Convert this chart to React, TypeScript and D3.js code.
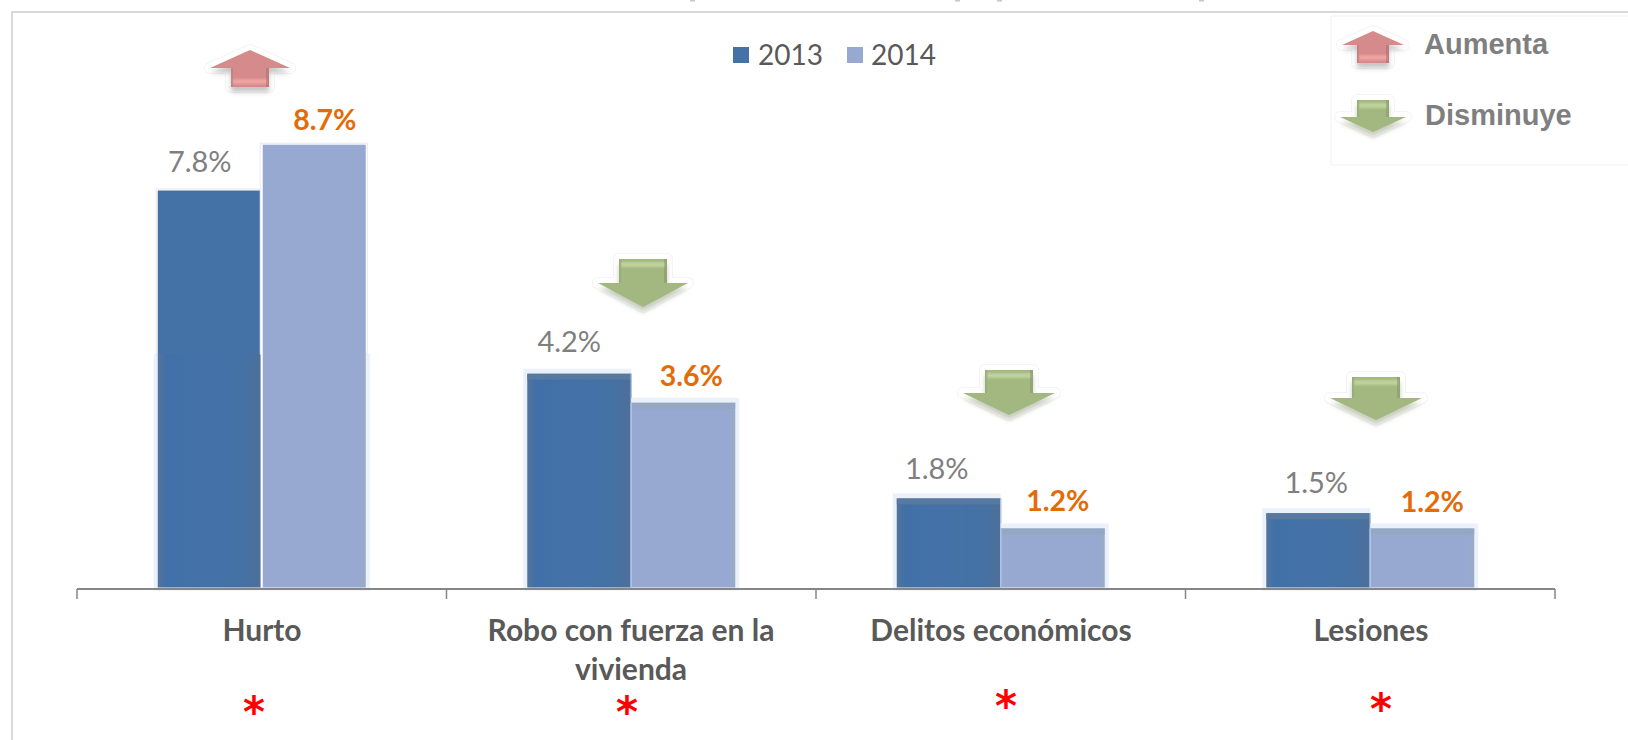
import React from "react";
import * as d3 from "d3";

// ---------- data ----------
const categories = ["Hurto", "Robo con fuerza en la|vivienda", "Delitos económicos", "Lesiones"];
const series = ["2013", "2014"];
const values2013 = [7.8, 4.2, 1.75, 1.46];
const values2014 = [8.7, 3.63, 1.16, 1.16];
const trend = ["up", "down", "down", "down"];
const legendItems = ["Aumenta", "Disminuye"];

// ---------- layout ----------
const W = 1628, H = 740;
const baseY = 587.5;
const axisLeft = 77, axisRight = 1555;
const x0 = d3.scaleBand<string>().domain(categories).range([axisLeft, axisRight]).paddingInner(0).paddingOuter(0);
const BAR = 104;
const x1 = d3.scaleBand<string>().domain(series).range([-BAR, BAR]);
const y = d3.scaleLinear().domain([0, 8.7]).range([baseY, 144.7]);
const fmt = d3.format(".1f");

const label13 = [{ dx: -10, by: 172 }, { dx: -10, by: 352 }, { dx: -12, by: 479 }, { dx: -2, by: 493 }];
const label14 = [{ dx: 11, by: 130 }, { dx: 8, by: 386 }, { dx: 5, by: 511 }, { dx: 10, by: 512 }];
const catCx = [262, 631, 1001, 1371];
const starPos = [{ x: 254, y: 727 }, { x: 627, y: 727 }, { x: 1006, y: 721 }, { x: 1381, y: 724 }];
const arrowPos = [
  { cx: 250, top: 50, hw: 40, headY: 68, end: 87, shaftHw: 19 },
  { cx: 643, top: 259, hw: 45, headY: 283, end: 307, shaftHw: 24 },
  { cx: 1009, top: 370, hw: 46, headY: 393, end: 415, shaftHw: 24 },
  { cx: 1376, top: 377, hw: 46, headY: 398, end: 420, shaftHw: 24 },
];
const legendArrows = [
  { cx: 1373, top: 31, hw: 31, headY: 45, end: 63, shaftHw: 16, dir: "up" },
  { cx: 1373, top: 100, hw: 33, headY: 117, end: 132, shaftHw: 16, dir: "down" },
];
const specks = [690, 955, 997, 1199];

const sans = "Lato, 'Noto Sans', sans-serif";
const arial = "'Liberation Sans', Arial, sans-serif";

type A = { cx: number; top: number; hw: number; headY: number; end: number; shaftHw: number };

function Arrow({ a, dir }: { a: A; dir: string }) {
  const { cx, top, hw, headY, end, shaftHw } = a;
  const d =
    dir === "up"
      ? `M${cx},${top} L${cx + hw},${headY} L${cx + shaftHw},${headY} L${cx + shaftHw},${end} L${cx - shaftHw},${end} L${cx - shaftHw},${headY} L${cx - hw},${headY} Z`
      : `M${cx},${end} L${cx + hw},${headY} L${cx + shaftHw},${headY} L${cx + shaftHw},${top} L${cx - shaftHw},${top} L${cx - shaftHw},${headY} L${cx - hw},${headY} Z`;
  const col = dir === "up" ? "#d58a8b" : "#a3b880";
  const strip = dir === "up" ? "#f0a3a3" : "#bfd29c";
  const stripY = dir === "up" ? end - 8 : top + 3;
  const sh = dir === "up" ? "#8a8a8a" : "#8f9a80";
  return (
    <g>
      <path d={d} fill="#fff" stroke="#f4f4f4" strokeWidth={12} strokeLinejoin="round" />
      <path d={d} fill="#fff" stroke="#fff" strokeWidth={10} strokeLinejoin="round" />
      <path d={d} fill={sh} opacity={0.5} transform="translate(0,5)" filter="url(#blur3)" />
      <path d={d} fill={col} />
      <rect x={cx - shaftHw + 2} y={stripY} width={shaftHw * 2 - 4} height={5} fill={strip} filter="url(#blur1)" />
      <rect x={cx + shaftHw - 3} y={dir === "up" ? headY : top} width={3} height={dir === "up" ? end - headY : headY - top} fill="#000" opacity={0.1} />
      <rect x={cx - shaftHw} y={dir === "up" ? headY : top} width={2} height={dir === "up" ? end - headY : headY - top} fill="#000" opacity={0.06} />
    </g>
  );
}

function Bar({ cat, s, v, i }: { cat: string; s: string; v: number; i: number }) {
  const xb = x0(cat)! + x0.bandwidth() / 2 + x1(s)!;
  const w = x1.bandwidth();
  const top = y(v);
  const dark = s === "2013";
  const fill = dark ? "url(#g13)" : "url(#g14)";
  const flat = dark ? "#4472a6" : "#97a9d0";
  const glowTop = i === 0 ? 354 : top - 5;
  const outer = dark ? xb - 4 : xb;
  const outerW = w + 4;
  return (
    <g>
      <rect x={outer} y={glowTop} width={outerW} height={baseY - glowTop + 3} fill="#eaf1fb" />
      {i === 0 && (
        <rect x={xb - 1.5} y={top - 1.5} width={w + 3} height={354 - top + 1.5} fill="#fff" stroke="#e9e6e6" strokeWidth={1} />
      )}
      {i === 0 && <rect x={xb} y={top} width={w} height={354 - top} fill={flat} />}
      <rect x={xb} y={i === 0 ? 354 : top} width={w} height={baseY - (i === 0 ? 354 : top)} fill={fill} />
      {i > 0 && <rect x={xb} y={top} width={w} height={6} fill={dark ? "#5b7a9f" : "#93a8c2"} opacity={0.85} />}
      <line x1={dark ? xb + w : xb} x2={dark ? xb + w : xb} y1={top} y2={baseY} stroke={i === 0 ? "#fff" : "#a9c6ea"} strokeWidth={i === 0 ? 2 : 1.5} />
    </g>
  );
}

export default function App() {
  const tickXs = [...categories.map((c) => x0(c)!), axisRight];
  return (
    <svg width={W} height={H} viewBox={`0 0 ${W} ${H}`} style={{ position: "absolute", left: 0, top: 0, display: "block", background: "#fff" }}>
      <defs>
        <filter id="blur3" x="-30%" y="-30%" width="160%" height="160%">
          <feGaussianBlur stdDeviation="2.5" />
        </filter>
        <filter id="blur1" x="-10%" y="-50%" width="120%" height="200%">
          <feGaussianBlur stdDeviation="0.8" />
        </filter>
        <linearGradient id="g13" x1="0" x2="1" y1="0" y2="0">
          <stop offset="0" stopColor="#55749b" />
          <stop offset="0.08" stopColor="#4170a8" />
          <stop offset="0.5" stopColor="#4472a8" />
          <stop offset="0.85" stopColor="#4571a3" />
          <stop offset="1" stopColor="#4f6f98" />
        </linearGradient>
        <linearGradient id="g14" x1="0" x2="1" y1="0" y2="0">
          <stop offset="0" stopColor="#97a9d0" />
          <stop offset="0.94" stopColor="#97a9d0" />
          <stop offset="1" stopColor="#9aabc6" />
        </linearGradient>
      </defs>

      {/* frame */}
      <path d={`M12,${H} V12 H${W}`} fill="none" stroke="#d9d9d9" strokeWidth={2} />
      {specks.map((sx) => (
        <rect key={sx} x={sx} y={0} width={5} height={1.5} fill="#c8c8c8" />
      ))}

      {/* legend (series) */}
      {series.map((s, i) => {
        const sx = [733, 847][i];
        return (
          <g key={s}>
            <rect x={sx} y={47} width={16} height={16} fill={i === 0 ? "#4472a6" : "#97a9d0"} />
            <text x={[758, 871][i]} y={65} fontFamily={sans} fontSize={28} fill="#595959">{s}</text>
          </g>
        );
      })}

      {/* legend (trend) */}
      <rect x={1331} y={16} width={310} height={149} fill="#fff" stroke="#f2f2f2" />
      {legendItems.map((t, i) => (
        <g key={t}>
          <Arrow a={legendArrows[i]} dir={legendArrows[i].dir} />
          <text x={[1424, 1425][i]} y={[54, 125][i]} fontFamily={arial} fontWeight={700} fontSize={29} fill="#7f7f7f">{t}</text>
        </g>
      ))}

      {/* bars */}
      {categories.map((c, i) => (
        <g key={c}>
          <Bar cat={c} s="2013" v={values2013[i]} i={i} />
          <Bar cat={c} s="2014" v={values2014[i]} i={i} />
        </g>
      ))}

      {/* axis */}
      <line x1={axisLeft} x2={axisRight} y1={589} y2={589} stroke="#868686" strokeWidth={2} />
      {tickXs.map((t) => (
        <line key={t} x1={t} x2={t} y1={589} y2={599} stroke="#868686" strokeWidth={1.5} />
      ))}

      {/* data labels */}
      {categories.map((c, i) => {
        const cx = x0(c)! + x0.bandwidth() / 2;
        return (
          <g key={c} fontFamily={sans} textAnchor="middle">
            <text x={cx + x1("2013")! + BAR / 2 + label13[i].dx} y={label13[i].by} fontSize={29} fill="#7f7f7f">{fmt(values2013[i])}%</text>
            <text x={cx + x1("2014")! + BAR / 2 + label14[i].dx} y={label14[i].by} fontSize={28.5} fill="#e36c09" fontWeight={700}>{fmt(values2014[i])}%</text>
          </g>
        );
      })}

      {/* category labels */}
      {categories.map((c, i) => (
        <text key={c} x={catCx[i]} y={641} textAnchor="middle" fontFamily={sans} fontWeight={700} fontSize={30} fill="#595959">
          {c.split("|").map((ln, k) => (
            <tspan key={k} x={catCx[i]} y={641 + k * 39}>{ln}</tspan>
          ))}
        </text>
      ))}

      {/* asterisks */}
      {starPos.map((p, i) => (
        <text key={i} x={p.x} y={p.y} textAnchor="middle" fontFamily="'DejaVu Sans', sans-serif" fontWeight={700} fontSize={42} fill="#ff0000">*</text>
      ))}

      {/* trend arrows */}
      {trend.map((t, i) => (
        <Arrow key={i} a={arrowPos[i]} dir={t} />
      ))}
    </svg>
  );
}
